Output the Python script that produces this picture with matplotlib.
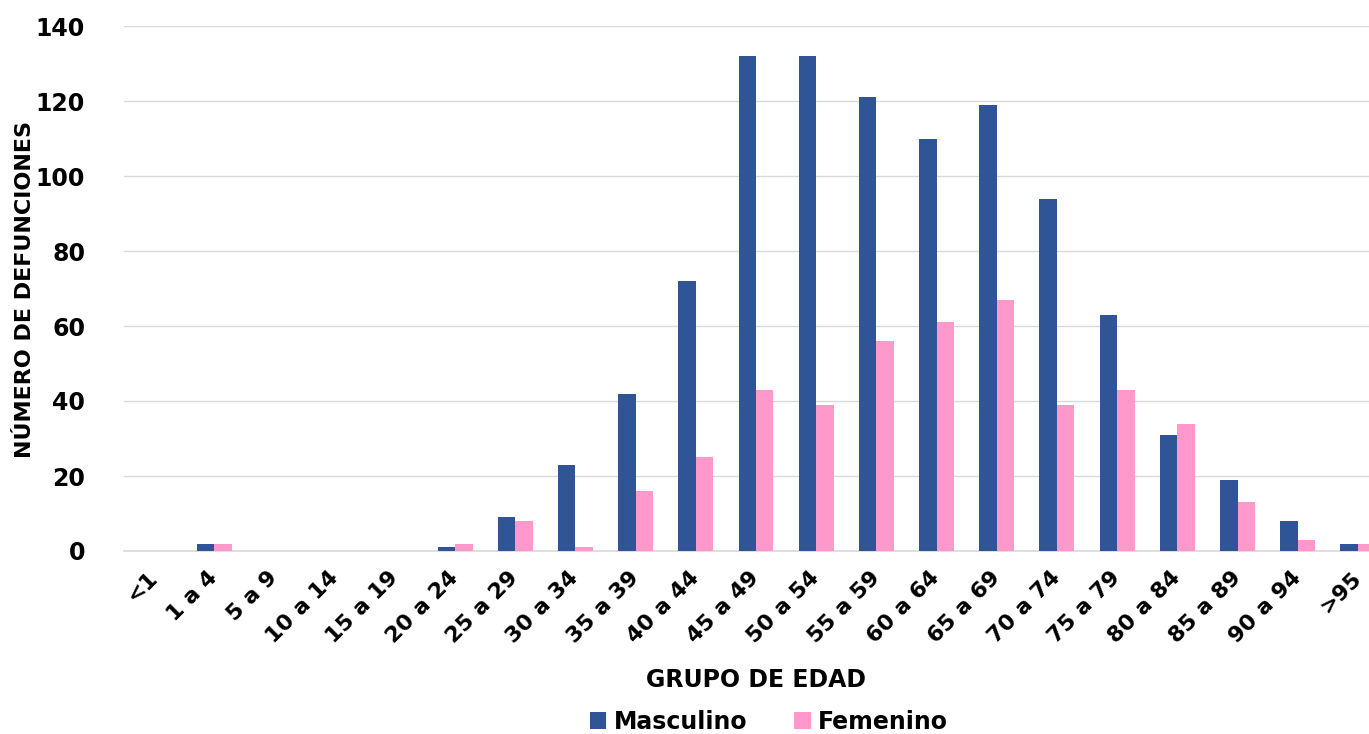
import matplotlib
matplotlib.use("Agg")
import matplotlib.pyplot as plt
import numpy as np

categories = ["<1", "1 a 4", "5 a 9", "10 a 14", "15 a 19", "20 a 24", "25 a 29",
              "30 a 34", "35 a 39", "40 a 44", "45 a 49", "50 a 54", "55 a 59",
              "60 a 64", "65 a 69", "70 a 74", "75 a 79", "80 a 84", "85 a 89",
              "90 a 94", ">95"]
masculino = [0, 2, 0, 0, 0, 1, 9, 23, 42, 72, 132, 132, 121, 110, 119, 94, 63, 31, 19, 8, 2]
femenino = [0, 2, 0, 0, 0, 2, 8, 1, 16, 25, 43, 39, 56, 61, 67, 39, 43, 34, 13, 3, 2]
yticks = [0, 20, 40, 60, 80, 100, 120, 140]

plt.rcParams['font.family'] = ['DejaVu Sans']
plt.rcParams['font.weight'] = 'bold'

W, H = 1369, 734
fig = plt.figure(figsize=(W / 100, H / 100), dpi=100)
ax = fig.add_axes([124 / W, (H - 551) / H, (1388 - 124) / W, (551 - 26) / H])

x = np.arange(len(categories))
bw = 0.29
blue = "#2F5597"
pink = "#FF99CC"
ax.bar(x - bw / 2, masculino, bw, color=blue, label="Masculino", zorder=3)
ax.bar(x + bw / 2, femenino, bw, color=pink, label="Femenino", zorder=3)

ax.set_xlim(-0.5, len(categories) - 0.5)
ax.set_ylim(0, 140)
ax.set_yticks(yticks)
ax.set_yticklabels([str(v) for v in yticks], fontsize=17, fontweight='bold')
ax.set_xticks(x)
ax.set_xticklabels(categories, rotation=45, ha='right', va='center', rotation_mode='anchor',
                   fontsize=16, fontweight='bold')
ax.tick_params(axis='both', length=0)
ax.tick_params(axis='y', pad=28)
ax.tick_params(axis='x', pad=17)
ax.grid(axis='y', color='#D9D9D9', linewidth=1, zorder=0)
for s in ['top', 'right', 'left']:
    ax.spines[s].set_visible(False)
ax.spines['bottom'].set_color('#D9D9D9')
ax.spines['bottom'].set_linewidth(1.2)

fig.text(756 / W, 1 - 680 / H, "GRUPO DE EDAD", ha='center', va='center',
         fontsize=17, fontweight='bold')
fig.text(25 / W, 1 - 290 / H, "NÚMERO DE DEFUNCIONES", rotation=90, ha='center', va='center',
         fontsize=16, fontweight='bold')

fig.legend(loc='center', bbox_to_anchor=(769 / W, 1 - 722 / H), ncol=2, frameon=False,
           handlelength=0.7, handleheight=0.7, columnspacing=2.0, handletextpad=0.3,
           prop={'weight': 'bold', 'size': 17})

fig.savefig("out.png", dpi=100)
